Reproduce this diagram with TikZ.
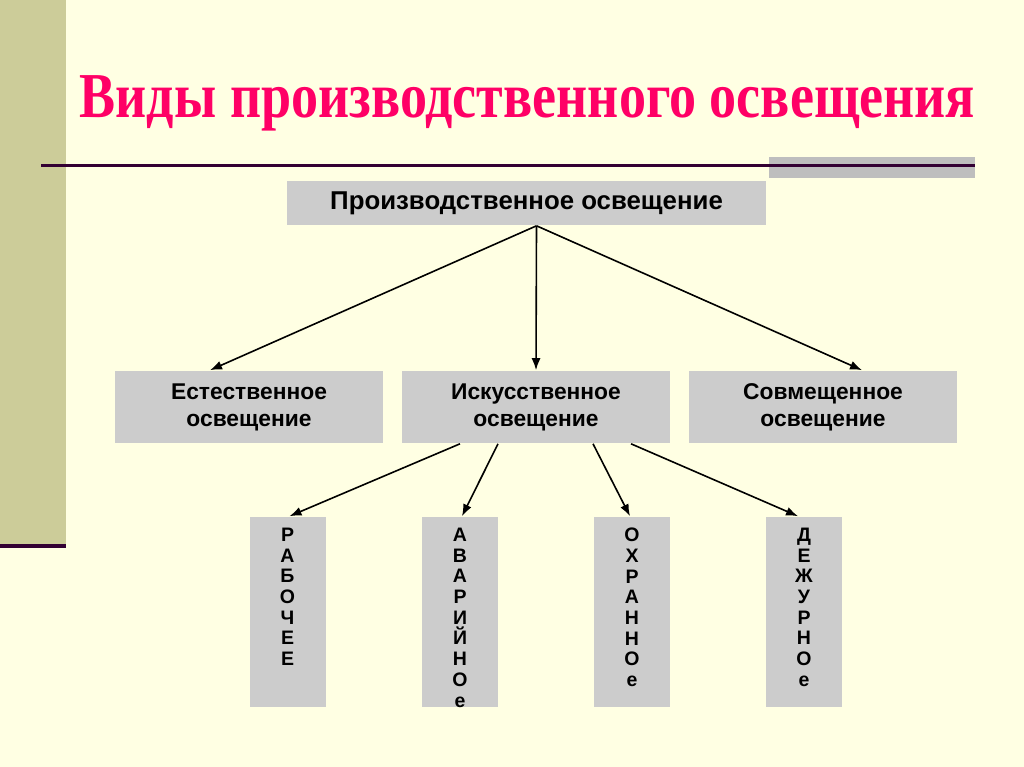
\documentclass[tikz,border=0pt]{standalone}
\usepackage{fontspec}
\setmainfont{Liberation Sans}
\newfontfamily\titlefont{Liberation Serif}
\usetikzlibrary{positioning,calc,arrows.meta}
\definecolor{slidebg}{RGB}{255,255,227}
\definecolor{sidebar}{RGB}{204,204,153}
\definecolor{rulecol}{RGB}{51,0,51}
\definecolor{boxgray}{RGB}{204,204,204}
\definecolor{tabgray}{RGB}{190,190,190}
\definecolor{titlecol}{RGB}{255,0,102}
\tikzset{
  topbox/.style={fill=boxgray, minimum width=479pt, minimum height=44pt, inner sep=0pt,
    font=\bfseries\fontsize{25.8}{27}\selectfont},
  midbox/.style={fill=boxgray, minimum width=268pt, minimum height=72pt, inner sep=0pt,
    align=center, font=\bfseries\fontsize{22.8}{27}\selectfont},
  lowbox/.style={fill=boxgray, minimum width=76pt, minimum height=190pt, inner sep=0pt},
  letters/.style={align=center, inner sep=0pt, font=\bfseries\fontsize{19.5}{20.7}\selectfont},
}
\begin{document}
\begin{tikzpicture}[>={Latex[length=12pt,width=9pt]}, x=1pt, y=-1pt, line width=1.6pt]
        \fill[slidebg] (0,0) rectangle (1024,767);
        \fill[sidebar] (0,0) rectangle (66,544);
        \fill[rulecol] (0,544) rectangle (66,548);
        \fill[tabgray] (769,157) rectangle (975,178);
        \draw[rulecol, line width=2.5pt] (41,165.5) -- (975,165.5);
        \node[anchor=base, text=titlecol, inner sep=0pt,
          font=\titlefont\bfseries\fontsize{64}{64}\selectfont] (title) at (527.5,118)
          {\scalebox{0.845}[1]{Виды производственного освещения}};
        \node[topbox] (prod) at (526.5,203) {Производственное освещение};
        \node[midbox] (nat) at (249,407) {Естественное\\освещение};
        \node[midbox] (art) at (536,407) {Искусственное\\освещение};
        \node[midbox] (mix) at (823,407) {Совмещенное\\освещение};
        \node[lowbox] (work) at (287.5,612) {};
        \node[lowbox] (emerg) at (460,612) {};
        \node[lowbox] (guard) at (632,612) {};
        \node[lowbox] (duty) at (804,612) {};
        \node[letters, below=11pt of work.north] (workt) {Р\\А\\Б\\О\\Ч\\Е\\Е};
        \node[letters, below=11pt of emerg.north] (emergt) {А\\В\\А\\Р\\И\\Й\\Н\\О\\е};
        \node[letters, below=11pt of guard.north] (guardt) {О\\Х\\Р\\А\\Н\\Н\\О\\е};
        \node[letters, below=11pt of duty.north] (dutyt) {Д\\Е\\Ж\\У\\Р\\Н\\О\\е};
        \coordinate (fork) at ($(prod.south)+(10,0)$);
        \draw[->] (fork) -- ($(nat.north)+(-39,0)$);
        \draw[->] (fork) -- (art.north);
        \draw[->] (fork) -- ($(mix.north)+(39,0)$);
        \draw[->] ($(art.south)+(-76,0)$) -- ($(work.north)+(2,0)$);
        \draw[->] ($(art.south)+(-38,0)$) -- ($(emerg.north)+(2,0)$);
        \draw[->] ($(art.south)+(57,0)$) -- ($(guard.north)+(-2,0)$);
        \draw[->] ($(art.south)+(95,0)$) -- ($(duty.north)+(-6,0)$);
\end{tikzpicture}
\end{document}
